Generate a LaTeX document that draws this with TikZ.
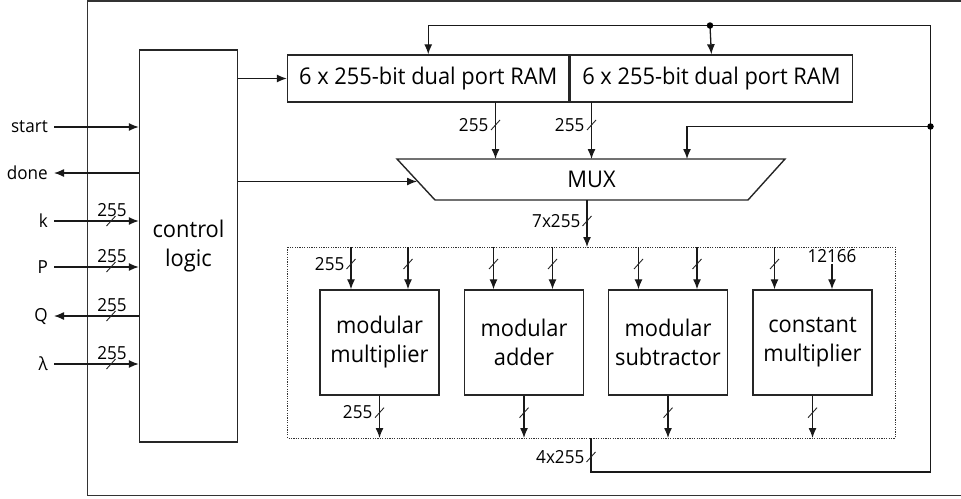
\documentclass[tikz,border=0pt]{standalone}
\usepackage{fontspec}
\setmainfont[FakeStretch=0.95]{Open Sans}
\usetikzlibrary{arrows.meta,calc}

\tikzset{
  wire/.style={line width=1.3pt, draw=black!90},
  sig/.style={wire, -{Latex[length=10pt,width=8pt]}},
  block/.style={draw=black!85, line width=1.4pt, fill=white, inner sep=0pt,
                align=center, font=\bigfont},
  lbl/.style={font=\smallfont, inner sep=1.5pt},
  portlbl/.style={lbl, anchor=east, inner sep=0pt, xshift=-6pt},
  busmark/.pic={\draw[line width=0.9pt, black!85] (-4.5,5) -- (4.5,-5);},
  junction/.style={circle, fill=black, inner sep=0pt, minimum size=6.5pt},
}
\newcommand\bigfont{\fontsize{23}{29}\selectfont}
\newcommand\smallfont{\fontsize{18}{20}\selectfont}

\begin{document}
\begin{tikzpicture}[x=1pt, y=-1pt]
\useasboundingbox (0,0) rectangle (961,498);

% outer frame (open on the right)
\draw[line width=1.5pt, black!80] (961,1) -- (87.5,1) -- (87.5,495.5) -- (961,495.5);

% control logic
\node[block, minimum width=98pt, minimum height=392pt] (ctrl) at (188.5,246) {control\\logic};

% external ports
\foreach \nm/\yy in {start/127, done/173, k/221, P/267, Q/316, lam/364}
  \coordinate (p-\nm) at (54,\yy);
\node[portlbl] at (p-start) {start};
\node[portlbl] at (p-done)  {done};
\node[portlbl] at (p-k)     {k};
\node[portlbl] at (p-P)     {P};
\node[portlbl] at (p-Q)     {Q};
\node[portlbl] at (p-lam)   {λ};

\draw[sig] (p-start) -- (p-start -| ctrl.west);
\draw[sig] (p-done -| ctrl.west) -- (p-done);
\draw[sig] (p-k) -- (p-k -| ctrl.west);
\draw[sig] (p-P) -- (p-P -| ctrl.west);
\draw[sig] (p-Q -| ctrl.west) -- (p-Q);
\draw[sig] (p-lam) -- (p-lam -| ctrl.west);
\foreach \nm in {k,P,Q,lam}{
  \pic at ($(p-\nm)+(57,0)$) {busmark};
  \node[lbl] at ($(p-\nm)+(58,-11)$) {255};
}

% dual port RAMs
\node[block, minimum width=281.5pt, minimum height=47pt] (ram1) at (428.25,78.5) {6 x 255-bit dual port RAM};
\node[block, minimum width=282pt, minimum height=47pt, anchor=west] (ram2) at (ram1.east) {6 x 255-bit dual port RAM};
\draw[sig] (ram1.west -| ctrl.east) -- (ram1.west);

% multiplexer
\coordinate (mux-tl) at (397,159);
\coordinate (mux-tr) at (785,159);
\coordinate (mux-br) at (748,200);
\coordinate (mux-bl) at (435,200);
\draw[block] (mux-tl) -- (mux-tr) -- (mux-br) -- (mux-bl) -- cycle;
\node[font=\bigfont, inner sep=0pt, minimum width=313pt, minimum height=41pt] (mux) at (591.5,179.5) {MUX};
\draw[sig] (ctrl.east |- 0,181.5) -- (417,181.5);

% RAM read ports into the MUX
\coordinate (r1) at (495.5,102);
\coordinate (r2) at (591.5,102);
\draw[sig] (r1) -- (r1 |- mux-tl);
\draw[sig] (r2) -- (r2 |- mux-tl);
\pic at (495.5,125) {busmark};
\pic at (591.5,125) {busmark};
\node[lbl, anchor=east] at (490,125) {255};
\node[lbl, anchor=east] at (586,125) {255};

% arithmetic unit
\draw[line width=1pt, black!80, dash pattern=on 1.2pt off 1.2pt] (287.5,247) rectangle (895,438);
\coordinate (unit-top) at (587,247);
\coordinate (unit-bot) at (591,438);
\draw[sig] (587,200) -- (unit-top);
\pic at (587,221) {busmark};
\node[lbl, anchor=east] at (582,221) {7x255};

\node[block, minimum width=119pt, minimum height=105pt] (mm) at (379.5,342.5) {modular\\multiplier};
\node[block, minimum width=119pt, minimum height=105pt] (ma) at (524,342.5) {modular\\adder};
\node[block, minimum width=119pt, minimum height=105pt] (ms) at (668,342.5) {modular\\subtractor};
\node[block, minimum width=119pt, minimum height=105pt] (cm) at (812.5,342.5) {constant\\multiplier};

% operand inputs
\foreach \xx/\bx in {351/mm, 408/mm, 493.5/ma, 552.5/ma, 638.5/ms, 697/ms, 774.5/cm}{
  \draw[sig] (\xx,247) -- (\xx,0 |- \bx.north);
  \pic at (\xx,264) {busmark};
}
\node[lbl, anchor=east] at (346,264) {255};
\node[lbl] (konst) at (832,256) {12166};
\draw[sig] (konst.south) -- (konst.south |- cm.north);

% results
\foreach \bx in {mm, ma, ms, cm}{
  \draw[sig] (\bx.south) -- (\bx.south |- unit-bot);
  \pic at ($(\bx.south)+(0,17)$) {busmark};
}
\node[lbl, anchor=east] at (374,412) {255};

% write-back bus
\coordinate (wb) at (930.5,126.5);
\coordinate (top) at (710,25.5);
\draw[sig] (unit-bot) -- (591,472) -- (930.5,472) -- (930.5,25.5) -- (ram1.north |- top) -- (ram1.north);
\draw[sig] (top) -- (ram2.north);
\draw[sig] (wb) -- (687,126.5) -- (687,159);
\node[junction] at (top) {};
\node[junction] at (wb) {};
\pic at (591,457) {busmark};
\node[lbl, anchor=east] at (586,457) {4x255};
\end{tikzpicture}
\end{document}
